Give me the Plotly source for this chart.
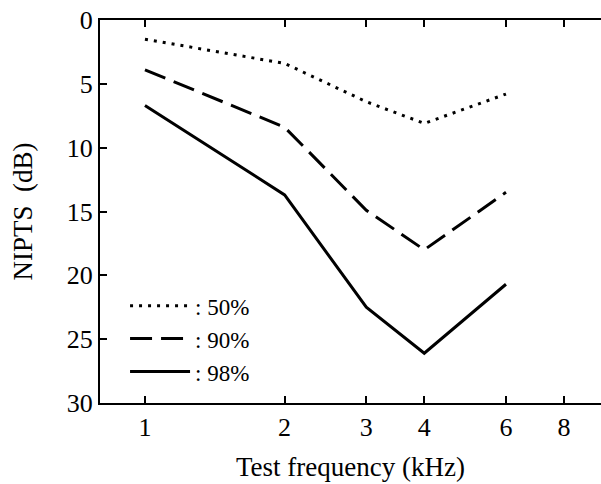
import plotly.graph_objects as go
import math

freq = [1, 2, 3, 4, 6]
p50 = [1.5, 3.4, 6.4, 8.1, 5.8]
p90 = [3.9, 8.4, 14.9, 18.0, 13.5]
p98 = [6.7, 13.7, 22.5, 26.1, 20.7]
xticks = [1, 2, 3, 4, 6, 8]
yticks = [0, 5, 10, 15, 20, 25, 30]

FONT = "Liberation Serif"
TF = dict(family=FONT, size=26, color="black")
TT = dict(family=FONT, size=27, color="black")
fig = go.Figure()
fig.add_trace(go.Scatter(x=freq, y=p50, mode="lines", name=": 50%",
                         line=dict(color="black", width=3, dash="3px,6px")))
fig.add_trace(go.Scatter(x=freq, y=p90, mode="lines", name=": 90%",
                         line=dict(color="black", width=3, dash="22px,9px")))
fig.add_trace(go.Scatter(x=freq, y=p98, mode="lines", name=": 98%",
                         line=dict(color="black", width=3)))

fig.update_layout(
    width=601, height=484,
    margin=dict(l=100, r=0, t=20, b=81),
    paper_bgcolor="white", plot_bgcolor="white",
    font=dict(family=FONT, size=24, color="black"),
    showlegend=True,
    legend=dict(x=0.05, y=0.31, xanchor="left", yanchor="top",
                bgcolor="rgba(0,0,0,0)", font=dict(family=FONT, size=23),
                itemwidth=60, tracegroupgap=0),
    xaxis=dict(type="log", range=[math.log10(0.8), 0.983],
               tickvals=xticks, ticktext=[str(v) for v in xticks],
               tickfont=TF,
               ticks="inside", ticklen=7, tickwidth=2, tickcolor="black",
               showline=True, linewidth=2, linecolor="black", mirror="ticks",
               showgrid=False, zeroline=False,
               title=dict(text="Test frequency (kHz)", font=TT, standoff=16)),
    yaxis=dict(range=[30, 0], tickvals=yticks, tickfont=TF,
               ticks="inside", ticklen=7, tickwidth=2, tickcolor="black",
               showline=True, linewidth=2, linecolor="black", mirror=False,
               showgrid=False, zeroline=False,
               title=dict(text="NIPTS  (dB)", font=TT, standoff=26)),
)

fig.write_html("out.html")
